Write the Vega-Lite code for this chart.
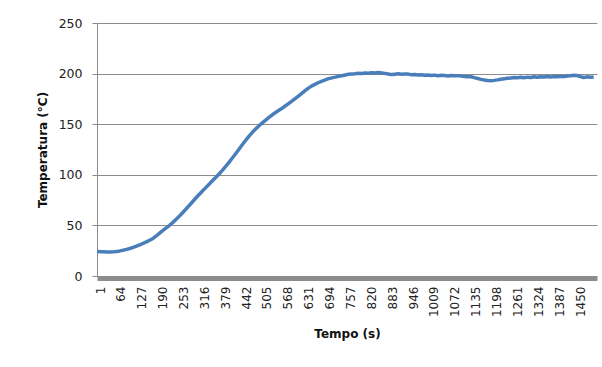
{
  "$schema": "https://vega.github.io/schema/vega-lite/v6.json",
  "autosize": {"type": "none"},
  "width": 500,
  "height": 253,
  "padding": {"left": 97, "top": 23, "right": 5, "bottom": 91},
  "background": "white",
  "config": {
    "view": {"stroke": null},
    "font": "DejaVu Sans",
    "axis": {"labelFont": "DejaVu Sans", "titleFont": "DejaVu Sans", "labelColor": "#222222", "titleColor": "#111111"}
  },
  "data": {
    "values": [
      {"t": 1, "temp": 24.2}, {"t": 10, "temp": 24.0}, {"t": 20, "temp": 23.9}, {"t": 30, "temp": 23.8},
      {"t": 40, "temp": 23.8}, {"t": 50, "temp": 24.0}, {"t": 60, "temp": 24.3}, {"t": 70, "temp": 24.8},
      {"t": 80, "temp": 25.5}, {"t": 90, "temp": 26.3}, {"t": 100, "temp": 27.2}, {"t": 110, "temp": 28.3},
      {"t": 120, "temp": 29.5}, {"t": 130, "temp": 30.8}, {"t": 140, "temp": 32.2}, {"t": 150, "temp": 33.7},
      {"t": 160, "temp": 35.3}, {"t": 170, "temp": 37.1}, {"t": 180, "temp": 39.6}, {"t": 190, "temp": 42.3},
      {"t": 200, "temp": 45.1}, {"t": 210, "temp": 47.6}, {"t": 220, "temp": 50.1}, {"t": 230, "temp": 53.0},
      {"t": 240, "temp": 56.1}, {"t": 250, "temp": 59.3}, {"t": 260, "temp": 62.7}, {"t": 270, "temp": 66.3},
      {"t": 280, "temp": 69.9}, {"t": 290, "temp": 73.6}, {"t": 300, "temp": 77.3}, {"t": 310, "temp": 80.8},
      {"t": 320, "temp": 84.2}, {"t": 330, "temp": 87.6}, {"t": 340, "temp": 90.9}, {"t": 350, "temp": 94.3},
      {"t": 360, "temp": 97.6}, {"t": 370, "temp": 101.0}, {"t": 380, "temp": 104.6}, {"t": 390, "temp": 108.5},
      {"t": 400, "temp": 112.6}, {"t": 410, "temp": 116.8}, {"t": 420, "temp": 121.1}, {"t": 430, "temp": 125.5},
      {"t": 440, "temp": 129.9}, {"t": 450, "temp": 134.2}, {"t": 460, "temp": 138.3}, {"t": 470, "temp": 142.0},
      {"t": 480, "temp": 145.4}, {"t": 490, "temp": 148.4}, {"t": 500, "temp": 151.3}, {"t": 510, "temp": 154.1},
      {"t": 520, "temp": 156.8}, {"t": 530, "temp": 159.3}, {"t": 540, "temp": 161.6}, {"t": 550, "temp": 163.7},
      {"t": 560, "temp": 165.8}, {"t": 570, "temp": 168.2}, {"t": 580, "temp": 170.6}, {"t": 590, "temp": 173.0},
      {"t": 600, "temp": 175.5}, {"t": 610, "temp": 178.0}, {"t": 620, "temp": 180.7}, {"t": 630, "temp": 183.4},
      {"t": 640, "temp": 185.9}, {"t": 650, "temp": 187.9}, {"t": 660, "temp": 189.6}, {"t": 670, "temp": 191.2},
      {"t": 680, "temp": 192.6}, {"t": 690, "temp": 193.8}, {"t": 700, "temp": 195.0}, {"t": 710, "temp": 195.8},
      {"t": 720, "temp": 196.5}, {"t": 730, "temp": 197.3}, {"t": 740, "temp": 197.9}, {"t": 750, "temp": 198.6},
      {"t": 760, "temp": 199.3}, {"t": 770, "temp": 199.6}, {"t": 780, "temp": 199.9}, {"t": 790, "temp": 200.4},
      {"t": 800, "temp": 200.2}, {"t": 810, "temp": 200.6}, {"t": 820, "temp": 200.3}, {"t": 830, "temp": 200.9},
      {"t": 840, "temp": 200.5}, {"t": 850, "temp": 201.0}, {"t": 860, "temp": 200.6}, {"t": 870, "temp": 200.2},
      {"t": 880, "temp": 199.6}, {"t": 890, "temp": 199.0}, {"t": 900, "temp": 199.4}, {"t": 910, "temp": 199.8},
      {"t": 920, "temp": 199.3}, {"t": 930, "temp": 199.7}, {"t": 940, "temp": 199.5}, {"t": 950, "temp": 198.9},
      {"t": 960, "temp": 199.2}, {"t": 970, "temp": 198.7}, {"t": 980, "temp": 198.9}, {"t": 990, "temp": 198.4},
      {"t": 1000, "temp": 198.7}, {"t": 1010, "temp": 198.2}, {"t": 1020, "temp": 198.5}, {"t": 1030, "temp": 197.9},
      {"t": 1040, "temp": 198.3}, {"t": 1050, "temp": 198.1}, {"t": 1060, "temp": 197.7}, {"t": 1070, "temp": 198.2},
      {"t": 1080, "temp": 197.8}, {"t": 1090, "temp": 198.0}, {"t": 1100, "temp": 197.5}, {"t": 1110, "temp": 197.2},
      {"t": 1120, "temp": 196.8}, {"t": 1130, "temp": 196.9}, {"t": 1140, "temp": 196.0}, {"t": 1150, "temp": 195.2},
      {"t": 1160, "temp": 194.3}, {"t": 1170, "temp": 193.6}, {"t": 1180, "temp": 193.1}, {"t": 1190, "temp": 193.0},
      {"t": 1200, "temp": 193.3}, {"t": 1210, "temp": 193.8}, {"t": 1220, "temp": 194.4}, {"t": 1230, "temp": 194.9},
      {"t": 1240, "temp": 195.3}, {"t": 1250, "temp": 195.6}, {"t": 1260, "temp": 196.1}, {"t": 1270, "temp": 195.8},
      {"t": 1280, "temp": 196.3}, {"t": 1290, "temp": 196.0}, {"t": 1300, "temp": 196.5}, {"t": 1310, "temp": 196.2},
      {"t": 1320, "temp": 196.8}, {"t": 1330, "temp": 196.4}, {"t": 1340, "temp": 196.9}, {"t": 1350, "temp": 196.6},
      {"t": 1360, "temp": 197.1}, {"t": 1370, "temp": 196.7}, {"t": 1380, "temp": 197.2}, {"t": 1390, "temp": 196.9},
      {"t": 1400, "temp": 197.4}, {"t": 1410, "temp": 197.0}, {"t": 1420, "temp": 197.6}, {"t": 1430, "temp": 197.8},
      {"t": 1440, "temp": 198.3}, {"t": 1450, "temp": 198.1}, {"t": 1460, "temp": 197.0}, {"t": 1470, "temp": 196.1},
      {"t": 1480, "temp": 196.8}, {"t": 1490, "temp": 196.3}, {"t": 1500, "temp": 196.7}
    ]
  },
  "mark": {"type": "line", "color": "#4a7ebb", "strokeWidth": 3.5, "strokeJoin": "round", "strokeCap": "butt"},
  "encoding": {
    "x": {
      "field": "t",
      "type": "quantitative",
      "scale": {"domain": [1, 1510], "nice": false, "zero": false},
      "axis": {
        "title": "Tempo (s)",
        "values": [1, 64, 127, 190, 253, 316, 379, 442, 505, 568, 631, 694, 757, 820, 883, 946, 1009, 1072, 1135, 1198, 1261, 1324, 1387, 1450],
        "format": "d",
        "labelAngle": -90,
        "labelAlign": "right",
        "labelBaseline": "middle",
        "labelFontSize": 12,
        "labelOffset": 3,
        "labelPadding": 8,
        "labelOverlap": false,
        "labelFlush": false,
        "ticks": false,
        "grid": false,
        "domainColor": "#8c8c8c",
        "domainWidth": 5,
        "domainCap": "butt",
        "offset": 2,
        "titleFontSize": 12,
        "titleFontWeight": "bold",
        "titlePadding": 12
      }
    },
    "y": {
      "field": "temp",
      "type": "quantitative",
      "scale": {"domain": [0, 250], "nice": false},
      "axis": {
        "title": "Temperatura (°C)",
        "values": [0, 50, 100, 150, 200, 250],
        "format": "d",
        "labelFontSize": 12.5,
        "labelPadding": 10,
        "tickSize": 5,
        "tickColor": "#8c8c8c",
        "domainColor": "#8c8c8c",
        "gridColor": "#8c8c8c",
        "gridWidth": 1,
        "titleFontSize": 12,
        "titleFontWeight": "bold",
        "titlePadding": 9
      }
    }
  }
}
